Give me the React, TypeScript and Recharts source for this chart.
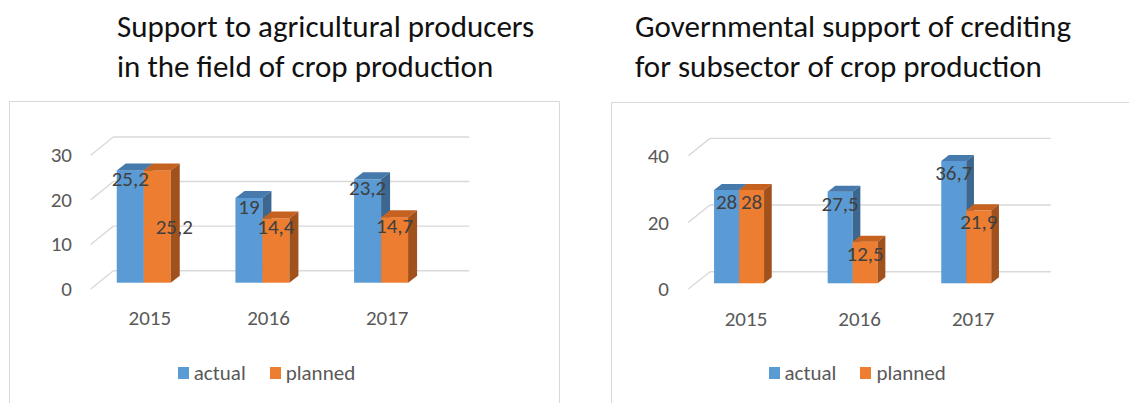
import React from 'react';
import { Bar, BarChart, CartesianGrid, LabelList, Legend, XAxis, YAxis } from 'recharts';

const years = ['2015', '2016', '2017'];
const seriesNames = ['actual', 'planned'];

const cropActual = [25.2, 19, 23.2];
const cropPlanned = [25.2, 14.4, 14.7];
const cropTicks = [0, 10, 20, 30];

const creditActual = [28, 27.5, 36.7];
const creditPlanned = [28, 12.5, 21.9];
const creditTicks = [0, 20, 40];

const FONT = 'Carlito, Lato, "Open Sans", sans-serif';
const COLORS = {
  actual: { front: '#5B9BD5', top: '#4679AC', side: '#3C6791' },
  planned: { front: '#ED7D31', top: '#C5621F', side: '#A1511B' },
};

const fmt = (v: number) => String(v).replace('.', ',');

function makeBar3D(dx: number, dy: number, c: { front: string; top: string; side: string }) {
  return (props: any) => {
    const { x, y, width: w, height: h } = props;
    if (!h) return <g />;
    return (
      <g>
        <rect x={x} y={y} width={w} height={h} fill={c.front} />
        <polygon points={`${x},${y} ${x + dx},${y - dy} ${x + w + dx},${y - dy} ${x + w},${y}`} fill={c.top} />
        <polygon points={`${x + w},${y} ${x + w + dx},${y - dy} ${x + w + dx},${y + h - dy} ${x + w},${y + h}`} fill={c.side} />
      </g>
    );
  };
}

type PanelProps = {
  actual: number[];
  planned: number[];
  ticks: number[];
  left: number;
  width: number;
  marginTop: number;
  marginRight: number;
  yAxisWidth: number;
  xAxisHeight: number;
  wall: { dx: number; dy: number; fx: number; fy: number };
  depth: { dx: number; dy: number };
  labelGap: number;
  yTickShift: number;
  legendBox: { left: number; width: number };
};

function Panel3D(p: PanelProps) {
  const data = years.map((year, i) => ({ year, actual: p.actual[i], planned: p.planned[i] }));
  const max = p.ticks[p.ticks.length - 1];

  // floor/back-wall gridlines: short diagonal from the front edge, then the back line
  const gridLine = (props: any) => {
    const { x1, y1, x2, key } = props;
    return (
      <g key={key}>
        <line x1={x1 + p.wall.fx} y1={y1 + p.wall.fy} x2={x1 + p.wall.dx} y2={y1 - p.wall.dy} stroke="#D9D9D9" strokeWidth={1.4} />
        <line x1={x1 + p.wall.dx} y1={y1 - p.wall.dy} x2={x2 + p.wall.dx} y2={y1 - p.wall.dy} stroke="#D9D9D9" strokeWidth={1.4} />
      </g>
    );
  };

  const yTick = (props: any) => (
    <text x={props.x + p.yTickShift} y={props.y + 13} textAnchor="end" fill="#595959" fontSize={21} fontFamily={FONT}>
      {props.payload.value}
    </text>
  );

  const xTick = (props: any) => (
    <text x={props.x + 6.5} y={props.y + 42.5} textAnchor="middle" fill="#595959" fontSize={21} fontFamily={FONT}>
      {props.payload.value}
    </text>
  );

  // planned label drops to mid-bar when it would collide with the actual label
  const label = (others: number[] | null) => (props: any) => {
    const vb = props.viewBox ?? props;
    const { x, y, width: w, height: h } = vb;
    const value = Number(props.value);
    const text = fmt(value);
    let cx = x + w / 2;
    let cy = y + p.labelGap;
    if (others && value > 0) {
      const pxPer = h / value;
      const otherTop = y + h - others[props.index] * pxPer;
      if (Math.abs(otherTop - y) < 18 && text.length * 9 > w) {
        cy = y + h / 2;
        cx = x + w / 2 + 17;
      }
    }
    return (
      <text x={cx} y={cy + 7.5} textAnchor="middle" fill="#404040" fontSize={21} fontFamily={FONT}>
        {text}
      </text>
    );
  };

  const legendContent = (props: any) => (
    <div style={{ display: 'flex', justifyContent: 'center', alignItems: 'center', height: 24, fontFamily: FONT, fontSize: 21, color: '#595959' }}>
      {(props.payload ?? []).map((item: any, i: number) => (
        <span key={item.value} style={{ display: 'flex', alignItems: 'center', marginLeft: i ? 24 : 0 }}>
          <span style={{ width: 11, height: 12, background: item.color, marginRight: 5, display: 'inline-block' }} />
          <span style={{ lineHeight: '24px' }}>{item.value}</span>
        </span>
      ))}
    </div>
  );

  return (
    <div style={{ position: 'absolute', left: p.left, top: 0, width: p.width, height: 403 }}>
      <BarChart
        width={p.width}
        height={403}
        data={data}
        margin={{ top: p.marginTop, right: p.marginRight, bottom: 18, left: 0 }}
        barCategoryGap="27.6%"
        barGap={0}
      >
        <CartesianGrid vertical={false} horizontal={gridLine} />
        <XAxis dataKey="year" axisLine={false} tickLine={false} tickSize={0} tickMargin={0} height={p.xAxisHeight} tick={xTick} />
        <YAxis
          domain={[0, max]}
          ticks={p.ticks}
          axisLine={false}
          tickLine={false}
          tickSize={0}
          tickMargin={0}
          width={p.yAxisWidth}
          tick={yTick}
        />
        <Legend
          verticalAlign="bottom"
          content={legendContent}
          wrapperStyle={{ left: p.legendBox.left, width: p.legendBox.width }}
        />
        <Bar dataKey="actual" name={seriesNames[0]} fill={COLORS.actual.front} isAnimationActive={false} shape={makeBar3D(p.depth.dx, p.depth.dy, COLORS.actual)}>
          <LabelList dataKey="actual" content={label(null)} />
        </Bar>
        <Bar dataKey="planned" name={seriesNames[1]} fill={COLORS.planned.front} isAnimationActive={false} shape={makeBar3D(p.depth.dx, p.depth.dy, COLORS.planned)}>
          <LabelList dataKey="planned" content={label(p.actual)} />
        </Bar>
      </BarChart>
    </div>
  );
}

const titleStyle: React.CSSProperties = {
  position: 'absolute',
  top: 6,
  fontSize: 31,
  lineHeight: '40px',
  color: '#111',
  whiteSpace: 'nowrap',
};

export default function App() {
  return (
    <div style={{ position: 'absolute', left: 0, top: 0, width: 1129, height: 403, background: '#fff', overflow: 'hidden', fontFamily: FONT }}>
      <div style={{ position: 'absolute', left: 9, top: 101, width: 551, height: 320, border: '1.5px solid #D9D9D9', boxSizing: 'border-box' }} />
      <div style={{ position: 'absolute', left: 611, top: 102, width: 560, height: 320, border: '1.5px solid #D9D9D9', boxSizing: 'border-box' }} />
      <div style={{ ...titleStyle, left: 117 }}>
        Support to agricultural producers
        <br />
        in the field of crop production
      </div>
      <div style={{ ...titleStyle, left: 635 }}>
        Governmental support of crediting
        <br />
        for subsector of crop production
      </div>
      <Panel3D
        actual={cropActual}
        planned={cropPlanned}
        ticks={cropTicks}
        left={0}
        width={560}
        marginTop={149}
        marginRight={120}
        yAxisWidth={84}
        xAxisHeight={78.3}
        wall={{ dx: 29.3, dy: 12, fx: 6.7, fy: 6.3 }}
        depth={{ dx: 9, dy: 7 }}
        labelGap={8}
        yTickShift={-12}
        legendBox={{ left: 84, width: 365 }}
      />
      <Panel3D
        actual={creditActual}
        planned={creditPlanned}
        ticks={creditTicks}
        left={600}
        width={529}
        marginTop={150}
        marginRight={105.5}
        yAxisWidth={82.7}
        xAxisHeight={77.7}
        wall={{ dx: 27.3, dy: 11.6, fx: 5.6, fy: 5.7 }}
        depth={{ dx: 7.7, dy: 6 }}
        labelGap={11.5}
        yTickShift={-13.7}
        legendBox={{ left: 82.7, width: 349 }}
      />
    </div>
  );
}
